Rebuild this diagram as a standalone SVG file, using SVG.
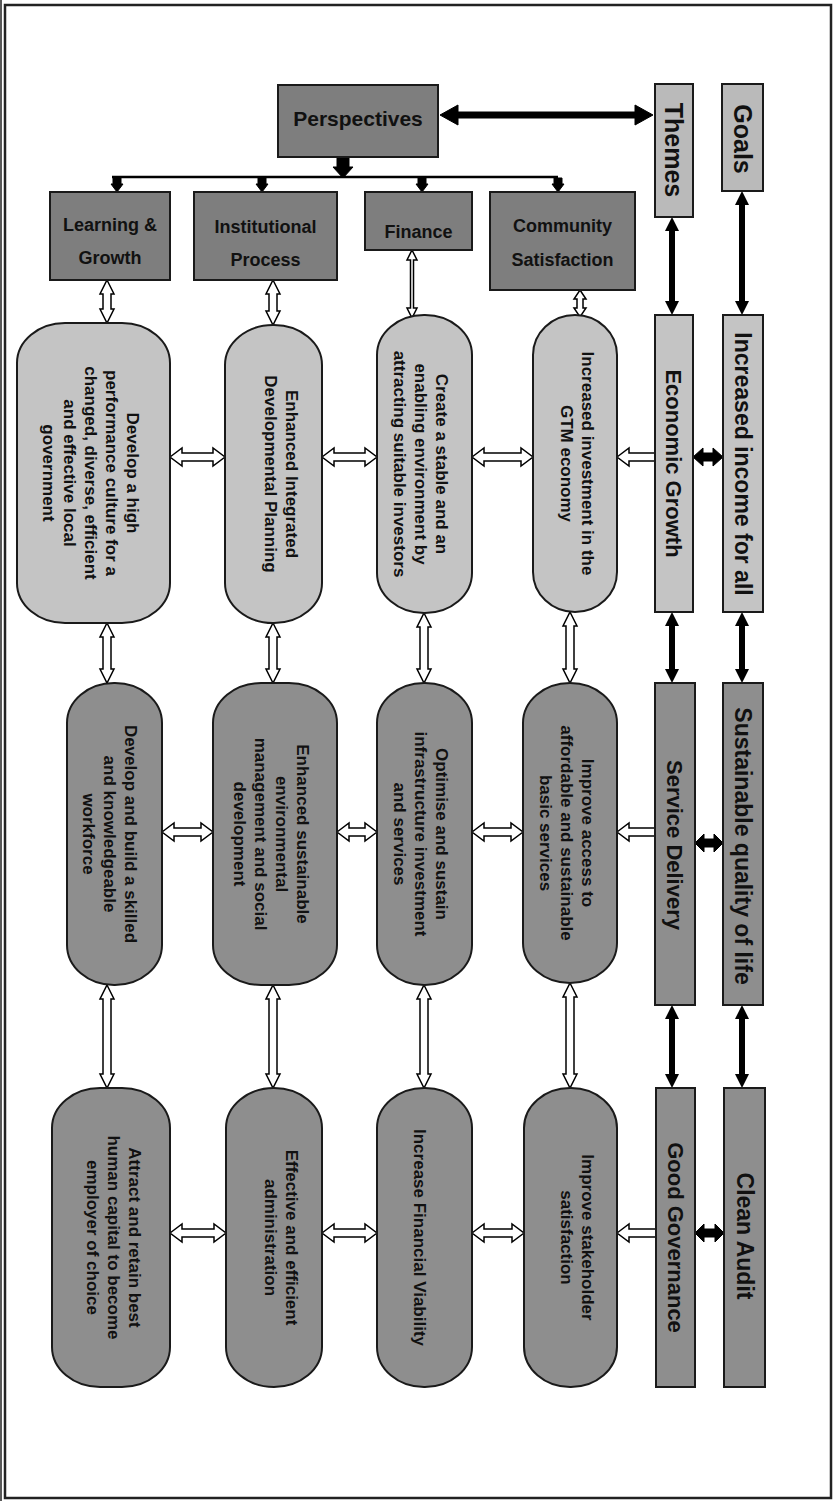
<svg xmlns="http://www.w3.org/2000/svg" width="837" height="1501" viewBox="0 0 837 1501">
<defs>
<style>
.lt{fill:#c4c4c4;stroke:#1a1a1a;stroke-width:2}
.dk{fill:#8e8e8e;stroke:#1a1a1a;stroke-width:2}
.hd{fill:#7e7e7e;stroke:#1a1a1a;stroke-width:2}
.tg{fill:#bababa;stroke:#1a1a1a;stroke-width:2}
text{font-family:"Liberation Sans",Arial,sans-serif;fill:#111;text-anchor:middle}
.ov{font-size:17px;font-weight:bold}
.th{font-size:22px;font-weight:bold}
.gl{font-size:23px;font-weight:bold}
.hb{font-size:18px;font-weight:bold}
.pb{font-size:21px;font-weight:bold}
.tb{font-size:25px;font-weight:bold}
.wa{fill:#fff;stroke:#000;stroke-width:1.5;stroke-linejoin:miter}
.bf{fill:#000;stroke:#000;stroke-width:1}
.bl{stroke:#000;stroke-width:6;fill:none}
</style>
<marker id="bk" viewBox="0 0 14 14" markerWidth="14" markerHeight="14" markerUnits="userSpaceOnUse" refX="0" refY="7" orient="auto-start-reverse">
<path d="M0,0 L14,7 L0,14 Z" fill="#000"/>
</marker>
</defs>
<rect x="0" y="0" width="837" height="1501" fill="#fff"/>
<g id="frame" fill="none" stroke="#222">
<rect x="5" y="5" width="826" height="1493" stroke-width="2.5"/>
<line x1="1" y1="0" x2="1" y2="1501" stroke-width="1.5"/>
</g>

<g id="connectors">
<path class="bf" d="M440 115 L458 105 L458 112 L635 112 L635 105 L653 115 L635 125 L635 118 L458 118 L458 125 Z"/>
<path class="bf" d="M337 157 L349 157 L349 167 L353 167 L343 178 L333 167 L337 167 Z"/>
<line x1="112" y1="177" x2="558" y2="177" stroke="#000" stroke-width="2.5"/>
<path class="bf" d="M113 178 L121 178 L121 184 L123 184 L117 192 L111 184 L113 184 Z"/>
<path class="bf" d="M258 178 L266 178 L266 184 L268 184 L262 192 L256 184 L258 184 Z"/>
<path class="bf" d="M418 178 L426 178 L426 184 L428 184 L422 192 L416 184 L418 184 Z"/>
<path class="bf" d="M554 178 L562 178 L562 184 L564 184 L558 192 L552 184 L554 184 Z"/>

<path class="wa" d="M107 280 L114 294 L111 294 L111 309 L114 309 L107 323 L100 309 L103 309 L103 294 L100 294 Z"/>
<path class="wa" d="M273 280 L280 294 L277 294 L277 311 L280 311 L273 325 L266 311 L269 311 L269 294 L266 294 Z"/>
<path class="wa" d="M412 250 L417 260 L413.5 260 L413.5 308 L417 308 L412 318 L407 308 L410.5 308 L410.5 260 L407 260 Z"/>
<path class="wa" d="M580 290 L586 299 L583 299 L583 308 L586 308 L580 317 L574 308 L577 308 L577 299 L574 299 Z"/>

<line class="bl" x1="672" y1="231" x2="672" y2="301" marker-start="url(#bk)" marker-end="url(#bk)"/>
<line class="bl" x1="742" y1="205" x2="742" y2="301" marker-start="url(#bk)" marker-end="url(#bk)"/>

<path class="wa" d="M170 457 L182 448 L182 453 L213 453 L213 448 L225 457 L213 466 L213 461 L182 461 L182 466 Z"/>
<path class="wa" d="M322 457 L334 448 L334 453 L365 453 L365 448 L377 457 L365 466 L365 461 L334 461 L334 466 Z"/>
<path class="wa" d="M472 457 L484 448 L484 453 L521 453 L521 448 L533 457 L521 466 L521 461 L484 461 L484 466 Z"/>
<path class="wa" d="M617 457 L629 448 L629 453 L655 453 L655 461 L629 461 L629 466 Z"/>
<path class="bf" d="M693 457 L703 448 L703 453 L713 453 L713 448 L723 457 L713 466 L713 461 L703 461 L703 466 Z"/>

<path class="wa" d="M107 623 L114 637 L111 637 L111 669 L114 669 L107 683 L100 669 L103 669 L103 637 L100 637 Z"/>
<path class="wa" d="M273 623 L280 637 L277 637 L277 669 L280 669 L273 683 L266 669 L269 669 L269 637 L266 637 Z"/>
<path class="wa" d="M424 613 L431 627 L428 627 L428 669 L431 669 L424 683 L417 669 L420 669 L420 627 L417 627 Z"/>
<path class="wa" d="M570 612 L577 626 L574 626 L574 669 L577 669 L570 683 L563 669 L566 669 L566 626 L563 626 Z"/>
<line class="bl" x1="672" y1="626" x2="672" y2="669" marker-start="url(#bk)" marker-end="url(#bk)"/>
<line class="bl" x1="742" y1="626" x2="742" y2="669" marker-start="url(#bk)" marker-end="url(#bk)"/>

<path class="wa" d="M162 832 L174 823 L174 828 L201 828 L201 823 L213 832 L201 841 L201 836 L174 836 L174 841 Z"/>
<path class="wa" d="M337 832 L349 823 L349 828 L365 828 L365 823 L377 832 L365 841 L365 836 L349 836 L349 841 Z"/>
<path class="wa" d="M472 832 L484 823 L484 828 L511 828 L511 823 L523 832 L511 841 L511 836 L484 836 L484 841 Z"/>
<path class="wa" d="M617 832 L629 823 L629 828 L655 828 L655 836 L629 836 L629 841 Z"/>
<path class="bf" d="M695 843 L704 834 L704 839 L714 839 L714 834 L723 843 L714 852 L714 847 L704 847 L704 852 Z"/>

<path class="wa" d="M107 985 L114 999 L111 999 L111 1074 L114 1074 L107 1088 L100 1074 L103 1074 L103 999 L100 999 Z"/>
<path class="wa" d="M273 985 L280 999 L277 999 L277 1074 L280 1074 L273 1088 L266 1074 L269 1074 L269 999 L266 999 Z"/>
<path class="wa" d="M424 985 L431 999 L428 999 L428 1074 L431 1074 L424 1088 L417 1074 L420 1074 L420 999 L417 999 Z"/>
<path class="wa" d="M570 983 L577 997 L574 997 L574 1074 L577 1074 L570 1088 L563 1074 L566 1074 L566 997 L563 997 Z"/>
<line class="bl" x1="672" y1="1019" x2="672" y2="1074" marker-start="url(#bk)" marker-end="url(#bk)"/>
<line class="bl" x1="742" y1="1019" x2="742" y2="1074" marker-start="url(#bk)" marker-end="url(#bk)"/>

<path class="wa" d="M170 1233 L182 1224 L182 1229 L214 1229 L214 1224 L226 1233 L214 1242 L214 1237 L182 1237 L182 1242 Z"/>
<path class="wa" d="M322 1233 L334 1224 L334 1229 L365 1229 L365 1224 L377 1233 L365 1242 L365 1237 L334 1237 L334 1242 Z"/>
<path class="wa" d="M472 1233 L484 1224 L484 1229 L512 1229 L512 1224 L524 1233 L512 1242 L512 1237 L484 1237 L484 1242 Z"/>
<path class="wa" d="M617 1233 L629 1224 L629 1229 L656 1229 L656 1237 L629 1237 L629 1242 Z"/>
<path class="bf" d="M695 1233 L704 1224 L704 1229 L715 1229 L715 1224 L724 1233 L715 1242 L715 1237 L704 1237 L704 1242 Z"/>
</g>

<g id="perspectives">
<rect class="hd" x="278" y="85" width="160" height="72"/>
<text class="pb" x="358" y="126">Perspectives</text>
</g>
<g id="themes">
<rect class="tg" x="655" y="84" width="38" height="133"/>
<text class="tb" transform="translate(674,150) rotate(90)" x="0" y="9">Themes</text>
</g>
<g id="goals">
<rect class="tg" x="722" y="84" width="41" height="107"/>
<text class="tb" transform="translate(742.5,139) rotate(90)" x="0" y="9">Goals</text>
</g>

<g id="learning-growth">
<rect class="hd" x="50" y="192" width="120" height="88"/>
<text class="hb" x="110"><tspan x="110" y="231">Learning &amp;</tspan><tspan x="110" y="264">Growth</tspan></text>
</g>
<g id="institutional-process">
<rect class="hd" x="194" y="192" width="143" height="88"/>
<text class="hb"><tspan x="265.5" y="233">Institutional</tspan><tspan x="265.5" y="266">Process</tspan></text>
</g>
<g id="finance">
<rect class="hd" x="365" y="192" width="107" height="58"/>
<text class="hb" x="418.5" y="238">Finance</text>
</g>
<g id="community-satisfaction">
<rect class="hd" x="490" y="192" width="145" height="98"/>
<text class="hb"><tspan x="562.5" y="232">Community</tspan><tspan x="562.5" y="266">Satisfaction</tspan></text>
</g>

<g id="obj-a">
<rect class="lt" x="17" y="323" width="153" height="300" rx="48" ry="40"/>
<text class="ov" transform="translate(91,473) rotate(90)"><tspan x="0" y="-36">Develop a high</tspan><tspan x="0" y="-15">performance culture for a</tspan><tspan x="0" y="6">changed, diverse, efficient</tspan><tspan x="0" y="27">and effective local</tspan><tspan x="0" y="48">government</tspan></text>
</g>
<g id="obj-b">
<rect class="lt" x="225" y="325" width="97" height="298" rx="48" ry="40"/>
<text class="ov" transform="translate(281,474) rotate(90)"><tspan x="0" y="-4.5">Enhanced Integrated</tspan><tspan x="0" y="16.5">Developmental Planning</tspan></text>
</g>
<g id="obj-c">
<rect class="lt" x="377" y="315" width="95" height="298" rx="47" ry="40"/>
<text class="ov" transform="translate(421,464) rotate(90)"><tspan x="0" y="-15">Create a stable and an</tspan><tspan x="0" y="6">enabling environment by</tspan><tspan x="0" y="27">attracting suitable investors</tspan></text>
</g>
<g id="obj-d">
<rect class="lt" x="533" y="315" width="84" height="297" rx="42" ry="40"/>
<text class="ov" transform="translate(577.5,463.5) rotate(90)"><tspan x="0" y="-4.5">Increased investment in the</tspan><tspan x="0" y="16.5">GTM economy</tspan></text>
</g>
<g id="economic-growth">
<rect class="lt" x="655" y="315" width="38" height="297"/>
<text class="th" transform="translate(674,463.5) rotate(90)" x="0" y="8">Economic Growth</text>
</g>
<g id="increased-income">
<rect class="lt" x="723" y="315" width="40" height="297"/>
<text class="gl" transform="translate(743,464) rotate(90)" x="0" y="8">Increased income for all</text>
</g>

<g id="obj-e">
<rect class="dk" x="67" y="683" width="95" height="302" rx="47" ry="40"/>
<text class="ov" transform="translate(110,834) rotate(90)"><tspan x="0" y="-15">Develop and build a skilled</tspan><tspan x="0" y="6">and knowledgeable</tspan><tspan x="0" y="27">workforce</tspan></text>
</g>
<g id="obj-f">
<rect class="dk" x="213" y="683" width="124" height="302" rx="48" ry="40"/>
<text class="ov" transform="translate(271,834) rotate(90)"><tspan x="0" y="-25.5">Enhanced sustainable</tspan><tspan x="0" y="-4.5">environmental</tspan><tspan x="0" y="16.5">management and social</tspan><tspan x="0" y="37.5">development</tspan></text>
</g>
<g id="obj-g">
<rect class="dk" x="377" y="683" width="95" height="302" rx="47" ry="40"/>
<text class="ov" transform="translate(421,834) rotate(90)"><tspan x="0" y="-15">Optimise and sustain</tspan><tspan x="0" y="6">infrastructure investment</tspan><tspan x="0" y="27">and services</tspan></text>
</g>
<g id="obj-h">
<rect class="dk" x="523" y="683" width="94" height="300" rx="47" ry="40"/>
<text class="ov" transform="translate(567,833) rotate(90)"><tspan x="0" y="-15">Improve access to</tspan><tspan x="0" y="6">affordable and sustainable</tspan><tspan x="0" y="27">basic services</tspan></text>
</g>
<g id="service-delivery">
<rect class="dk" x="655" y="683" width="40" height="322"/>
<text class="th" transform="translate(675,845) rotate(90)" x="0" y="8">Service Delivery</text>
</g>
<g id="sustainable-quality">
<rect class="dk" x="723" y="683" width="40" height="322"/>
<text class="gl" transform="translate(743,846) rotate(90)" x="0" y="8">Sustainable quality of life</text>
</g>

<g id="obj-i">
<rect class="dk" x="52" y="1088" width="118" height="299" rx="48" ry="40"/>
<text class="ov" transform="translate(114,1237.5) rotate(90)"><tspan x="0" y="-15">Attract and retain best</tspan><tspan x="0" y="6">human capital to become</tspan><tspan x="0" y="27">employer of choice</tspan></text>
</g>
<g id="obj-j">
<rect class="dk" x="226" y="1088" width="96" height="299" rx="48" ry="40"/>
<text class="ov" transform="translate(281,1237.5) rotate(90)"><tspan x="0" y="-4.5">Effective and efficient</tspan><tspan x="0" y="16.5">administration</tspan></text>
</g>
<g id="obj-k">
<rect class="dk" x="377" y="1088" width="95" height="299" rx="47" ry="40"/>
<text class="ov" transform="translate(420,1237.5) rotate(90)" x="0" y="6">Increase Financial Viability</text>
</g>
<g id="obj-l">
<rect class="dk" x="524" y="1088" width="93" height="299" rx="46" ry="40"/>
<text class="ov" transform="translate(577.5,1237.5) rotate(90)"><tspan x="0" y="-4.5">Improve stakeholder</tspan><tspan x="0" y="16.5">satisfaction</tspan></text>
</g>
<g id="good-governance">
<rect class="dk" x="656" y="1088" width="39" height="299"/>
<text class="th" transform="translate(675.5,1237.5) rotate(90)" x="0" y="8">Good Governance</text>
</g>
<g id="clean-audit">
<rect class="dk" x="724" y="1088" width="41" height="299"/>
<text class="gl" transform="translate(744.5,1236) rotate(90)" x="0" y="8">Clean Audit</text>
</g>
</svg>
